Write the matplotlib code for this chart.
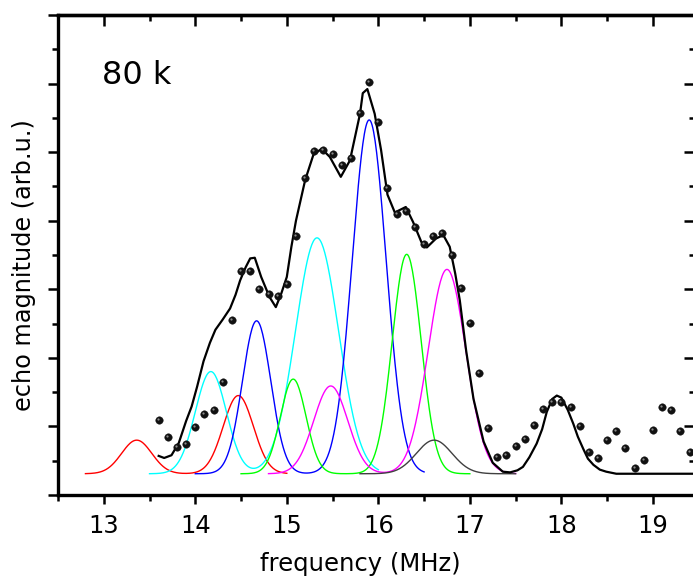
import numpy as np
import matplotlib
matplotlib.use("Agg")
import matplotlib.pyplot as plt
from matplotlib.ticker import MultipleLocator
from matplotlib.transforms import offset_copy

# measured echo magnitude (80 k), 0.1 MHz steps
freq = [13.6, 13.7, 13.8, 13.9, 14.0, 14.1, 14.2, 14.3, 14.4, 14.5,
        14.6, 14.7, 14.8, 14.9, 15.0, 15.1, 15.2, 15.3, 15.4, 15.5,
        15.6, 15.7, 15.8, 15.9, 16.0, 16.1, 16.2, 16.3, 16.4, 16.5,
        16.6, 16.7, 16.8, 16.9, 17.0, 17.1, 17.2, 17.3, 17.4, 17.5,
        17.6, 17.7, 17.8, 17.9, 18.0, 18.1, 18.2, 18.3, 18.4, 18.5,
        18.6, 18.7, 18.8, 18.9, 19.0, 19.1, 19.2, 19.3, 19.4]
echo = [1.10, 0.85, 0.70, 0.75, 0.99, 1.18, 1.24, 1.65, 2.55, 3.27,
        3.27, 3.01, 2.93, 2.90, 3.08, 3.78, 4.63, 5.01, 5.03, 4.97,
        4.81, 4.92, 5.57, 6.02, 5.44, 4.47, 4.10, 4.14, 3.91, 3.66,
        3.77, 3.82, 3.50, 3.02, 2.51, 1.78, 0.97, 0.55, 0.59, 0.72,
        0.82, 1.02, 1.25, 1.35, 1.36, 1.29, 1.01, 0.62, 0.54, 0.80,
        0.93, 0.68, 0.39, 0.51, 0.95, 1.29, 1.24, 0.93, 0.62]

# total fit curve
fit_x = [13.60, 13.66, 13.74, 13.82, 13.90, 13.96, 14.02, 14.09, 14.16, 14.22,
         14.30, 14.38, 14.44, 14.49, 14.55, 14.60, 14.65, 14.72, 14.81, 14.88,
         14.94, 15.00, 15.05, 15.10, 15.20, 15.29, 15.38, 15.47, 15.59, 15.69,
         15.80, 15.83, 15.88, 15.96, 16.03, 16.10, 16.18, 16.30, 16.38, 16.47,
         16.53, 16.63, 16.71, 16.78, 16.84, 16.89, 16.96, 17.04, 17.15, 17.25,
         17.36, 17.44, 17.52, 17.58, 17.65, 17.73, 17.79, 17.84, 17.90, 17.95,
         18.00, 18.07, 18.13, 18.18, 18.24, 18.29, 18.35, 18.42, 18.49, 18.60,
         19.46]
fit_y = [0.57, 0.54, 0.58, 0.76, 1.08, 1.29, 1.58, 1.95, 2.22, 2.41,
         2.56, 2.72, 2.92, 3.13, 3.32, 3.45, 3.46, 3.18, 2.89, 2.74,
         2.94, 3.18, 3.62, 4.00, 4.59, 4.96, 5.05, 4.93, 4.64, 4.88,
         5.56, 5.86, 5.92, 5.56, 5.03, 4.38, 4.12, 4.20, 3.98, 3.69,
         3.61, 3.74, 3.79, 3.62, 3.23, 2.84, 2.10, 1.40, 0.78, 0.47,
         0.34, 0.33, 0.36, 0.41, 0.55, 0.75, 0.96, 1.21, 1.40, 1.45,
         1.42, 1.24, 1.04, 0.85, 0.67, 0.53, 0.44, 0.37, 0.34, 0.31,
         0.31]

# gaussian components (baseline, then one entry per coloured curve)
baseline = 0.31
comp_colors = ["#ff0000", "#00ffff", "#0000ff", "#00ff00", "#ff00ff", "#404040"]
comp_centers = [(13.36, 14.47), (14.17, 15.33), (14.67, 15.90),
                (15.07, 16.31), (15.48, 16.75), (16.61,)]
comp_heights = [(0.49, 1.14), (1.49, 3.44), (2.23, 5.16),
                (1.38, 3.20), (1.28, 2.98), (0.49,)]
comp_sigmas = [(0.165, 0.165), (0.17, 0.235), (0.155, 0.185),
               (0.14, 0.158), (0.186, 0.205), (0.195,)]
comp_ranges = [(12.8, 15.0), (13.5, 16.0), (14.0, 16.5),
               (14.5, 17.0), (14.8, 17.5), (15.8, 17.5)]


def gauss(x, centers, heights, sigmas):
    y = np.zeros_like(x)
    for c, h, s in zip(centers, heights, sigmas):
        y += h * np.exp(-0.5 * ((x - c) / s) ** 2)
    return y


fig = plt.figure(figsize=(6.93, 5.82), dpi=100)
ax = fig.add_axes([58 / 693, 87 / 582, 637 / 693, 480 / 582])

for color, cen, hgt, sig, rng in zip(comp_colors, comp_centers, comp_heights,
                                      comp_sigmas, comp_ranges):
    x = np.linspace(rng[0], rng[1], 300)
    ax.plot(x, baseline + gauss(x, cen, hgt, sig), color=color, lw=1.0)

ax.plot(fit_x, fit_y, color="black", lw=1.6)

# data points drawn as little shaded balls
ax.plot(freq, echo, "o", color="#111111", ms=5.4, mec="#111111", mew=0.3)
hl = offset_copy(ax.transData, fig=fig, x=-1.0, y=1.0, units="dots")
ax.plot(freq, echo, "o", color="#8a8a8a", ms=1.6, mew=0, transform=hl)

ax.text(12.98, 6.0, "80 k", fontsize=23)

ax.set_xlim(12.5, 19.46)
ax.set_ylim(0, 7)
ax.xaxis.set_major_locator(MultipleLocator(1))
ax.xaxis.set_minor_locator(MultipleLocator(0.5))
ax.yaxis.set_major_locator(MultipleLocator(1))
ax.yaxis.set_minor_locator(MultipleLocator(0.5))
ax.set_yticklabels([])
ax.tick_params(axis="x", which="major", direction="out", length=6.5, width=1.8,
               labelsize=17.5, pad=7, top=False)
ax.tick_params(axis="x", which="minor", direction="out", length=4, width=1.8, top=False)
ax.tick_params(axis="y", which="major", direction="out", length=7.5, width=1.8, right=False)
ax.tick_params(axis="y", which="minor", direction="out", length=4.5, width=1.8, right=False)
for sp in ax.spines.values():
    sp.set_linewidth(2.4)

# mirrored ticks pointing inwards on top and right
top = ax.secondary_xaxis("top")
top.xaxis.set_major_locator(MultipleLocator(1))
top.xaxis.set_minor_locator(MultipleLocator(0.5))
top.tick_params(which="major", direction="in", length=8, width=1.8, labeltop=False)
top.tick_params(which="minor", direction="in", length=4.5, width=1.8)
top.spines["top"].set_linewidth(2.4)
right = ax.secondary_yaxis("right")
right.yaxis.set_major_locator(MultipleLocator(1))
right.yaxis.set_minor_locator(MultipleLocator(0.5))
right.tick_params(which="major", direction="in", length=8, width=1.8, labelright=False)
right.tick_params(which="minor", direction="in", length=4.5, width=1.8)
right.spines["right"].set_linewidth(2.4)

ax.set_xlabel("frequency (MHz)", fontsize=17.5, labelpad=10, x=0.474)
ax.set_ylabel("echo magnitude (arb.u.)", fontsize=17.3, labelpad=5, y=0.48)

fig.savefig("out.png", dpi=100)
